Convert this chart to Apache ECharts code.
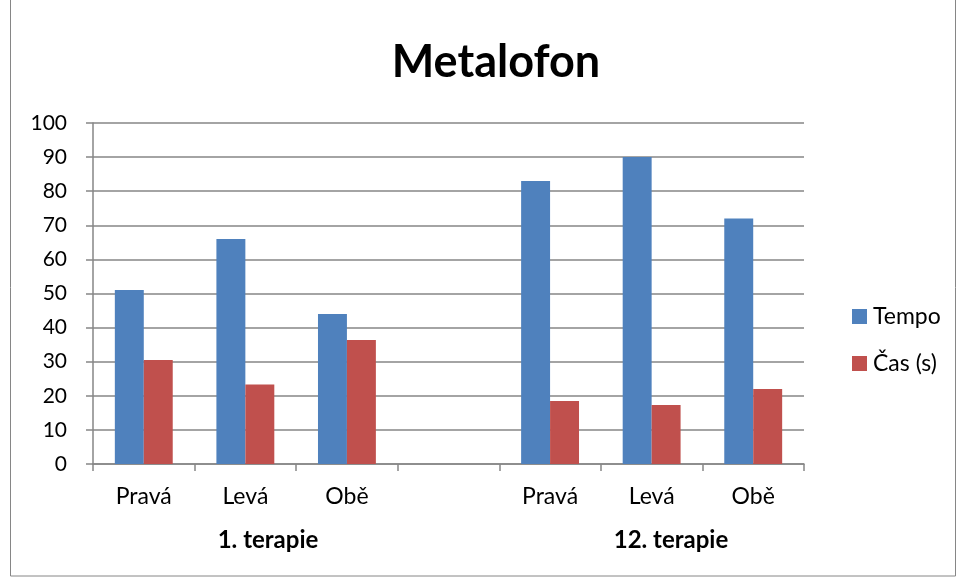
<!DOCTYPE html>
<html>
<head>
<meta charset="utf-8">
<script src="https://cdn.jsdelivr.net/npm/echarts@6/dist/echarts.min.js"></script>
<style>
  html, body { margin: 0; padding: 0; background: #fff; }
  #chart { width: 959px; height: 578px; }
</style>
</head>
<body>
<div id="chart"></div>
<script>
const categories = ['Pravá', 'Levá', 'Obě', '', 'Pravá', 'Levá', 'Obě'];
const groups = ['1. terapie', '12. terapie'];
const tempo = [51, 66, 44, null, 83, 90, 72];
const cas = [30.5, 23.3, 36.4, null, 18.5, 17.3, 22.0];
const yTicks = [0, 10, 20, 30, 40, 50, 60, 70, 80, 90, 100];

const font = 'Lato, "Open Sans", sans-serif';
const chart = echarts.init(document.getElementById('chart'));

chart.setOption({
  animation: false,
  backgroundColor: '#fff',
  title: {
    text: 'Metalofon',
    left: 491,
    top: 35,
    textAlign: 'center',
    textStyle: { fontFamily: font, fontSize: 45, fontWeight: 'bold', color: '#000' }
  },
  legend: {
    orient: 'vertical',
    left: 847,
    top: 300,
    itemWidth: 15,
    itemHeight: 15,
    itemGap: 24,
    icon: 'rect',
    textStyle: { fontFamily: font, fontSize: 23, color: '#000', padding: [0, 0, 0, 1] },
    data: ['Tempo', 'Čas (s)']
  },
  grid: { left: 93, right: 155, top: 123, bottom: 114, containLabel: false },
  xAxis: {
    type: 'category',
    data: categories,
    axisLine: { lineStyle: { color: '#868686', width: 1.5 } },
    axisTick: { show: true, length: 7, alignWithLabel: false, lineStyle: { color: '#868686', width: 1.5 } },
    axisLabel: { fontFamily: font, fontSize: 23, color: '#000', margin: 21, interval: 0 }
  },
  yAxis: {
    type: 'value',
    min: yTicks[0],
    max: yTicks[yTicks.length - 1],
    interval: 10,
    axisLine: { show: true, lineStyle: { color: '#868686', width: 1.5 } },
    axisTick: { show: true, length: 7, lineStyle: { color: '#868686', width: 1.5 } },
    axisLabel: { fontFamily: font, fontSize: 21, color: '#000', margin: 26 },
    splitLine: { lineStyle: { color: '#868686', width: 1.5 } }
  },
  series: [
    {
      name: 'Tempo',
      type: 'bar',
      data: tempo,
      barGap: '0%',
      barCategoryGap: '43%',
      itemStyle: { color: '#4f81bd' }
    },
    {
      name: 'Čas (s)',
      type: 'bar',
      data: cas,
      itemStyle: { color: '#c0504d' }
    }
  ],
  graphic: [
    {
      type: 'rect',
      shape: { x: 10.5, y: -2, width: 945, height: 578 },
      style: { fill: 'none', stroke: '#868686', lineWidth: 1 },
      silent: true
    },
    {
      type: 'text',
      x: 268,
      y: 540,
      style: { text: groups[0], fontFamily: font, fontSize: 24, fontWeight: 'bold', fill: '#000', align: 'center', verticalAlign: 'middle' }
    },
    {
      type: 'text',
      x: 671,
      y: 540,
      style: { text: groups[1], fontFamily: font, fontSize: 24, fontWeight: 'bold', fill: '#000', align: 'center', verticalAlign: 'middle' }
    }
  ]
});
</script>
</body>
</html>
